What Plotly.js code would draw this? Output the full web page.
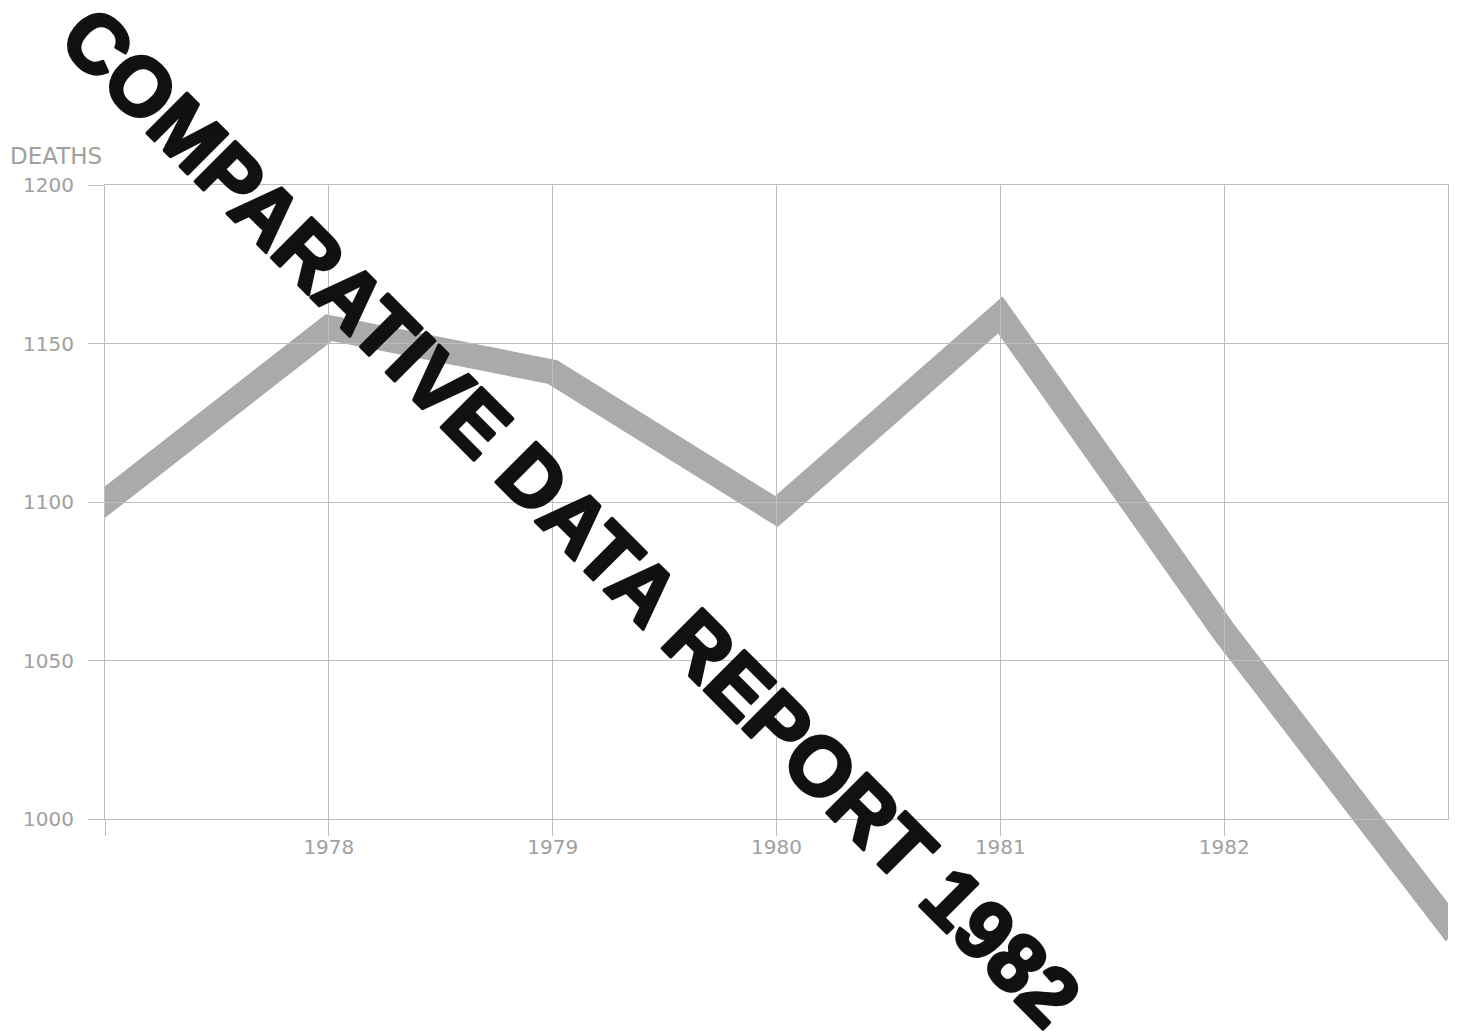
<!DOCTYPE html>
<html>
<head>
<meta charset="utf-8">
<script src="https://cdn.plot.ly/plotly-3.0.1.min.js"></script>
<style>
  html, body { margin: 0; padding: 0; background: #ffffff; }
  #chart { width: 1460px; height: 1035px; }
  .js-line { stroke-linejoin: miter !important; stroke-linecap: square !important; }
  g.annotation[data-index="1"] text {
    font-weight: 700 !important;
    stroke: #111111 !important; stroke-width: 3.5px !important; stroke-linejoin: round !important;
  }
</style>
</head>
<body>
<div id="chart"></div>
<script>
// ---- data ----
const years = [1977, 1978, 1979, 1980, 1981, 1982, 1983];
const deaths = [1100, 1155, 1141, 1097, 1159, 1059, 967];
const xTickVals = [1977, 1978, 1979, 1980, 1981, 1982];
const xTickText = ['', '1978', '1979', '1980', '1981', '1982'];
const yTickVals = [1000, 1050, 1100, 1150, 1200];
const yTickText = ['1000', '1050', '1100', '1150', '1200'];
const yLabel = 'DEATHS';
const watermark = 'COMPARATIVE DATA REPORT 1982';

// ---- layout geometry ----
const W = 1460, H = 1035;
const mL = 105, mR = 12, mT = 185, mB = 60;
const plotH = H - mT - mB;
const gridBottomPx = 819;
const gridDomainLow = (H - mB - gridBottomPx) / plotH;
const gridPxH = gridBottomPx - mT;
const yMin = 1000, yMax = 1200;
const extraUnits = (yMax - yMin) * (H - mB - gridBottomPx) / gridPxH;

const gridColor = '#bdbdbd';
const tickFont = { family: 'DejaVu Sans, sans-serif', size: 20, color: '#a0a0a0' };

const traces = [
  {
    x: years, y: deaths, xaxis: 'x', yaxis: 'y',
    type: 'scatter', mode: 'lines',
    line: { color: '#aaaaaa', width: 25 },
    hoverinfo: 'skip', showlegend: false
  },
  { x: [], y: [], xaxis: 'x2', yaxis: 'y2', type: 'scatter', mode: 'lines', showlegend: false }
];

const layout = {
  width: W, height: H,
  margin: { l: mL, r: mR, t: mT, b: mB, pad: 0 },
  paper_bgcolor: '#ffffff', plot_bgcolor: 'rgba(0,0,0,0)',
  showlegend: false,
  xaxis: { domain: [0, 1], range: [1977, 1983], visible: false, fixedrange: true },
  yaxis: { domain: [0, 1], range: [yMin - extraUnits, yMax], visible: false, fixedrange: true },
  xaxis2: {
    domain: [0, 1], anchor: 'y2', range: [1977, 1983],
    tickmode: 'array', tickvals: xTickVals, ticktext: xTickText,
    showgrid: true, gridcolor: gridColor, gridwidth: 1,
    ticks: 'outside', ticklen: 16, tickcolor: gridColor, tickwidth: 1,
    showline: true, mirror: true, linecolor: gridColor, linewidth: 1,
    zeroline: false, tickfont: tickFont, ticklabelstandoff: -6, fixedrange: true
  },
  yaxis2: {
    domain: [gridDomainLow, 1], anchor: 'x2', range: [yMin, yMax],
    tickmode: 'array', tickvals: yTickVals, ticktext: yTickText,
    showgrid: true, gridcolor: gridColor, gridwidth: 1,
    ticks: 'outside', ticklen: 16, tickcolor: gridColor, tickwidth: 1,
    showline: true, mirror: true, linecolor: gridColor, linewidth: 1,
    zeroline: false, tickfont: tickFont, ticklabelstandoff: 10, fixedrange: true
  },
  annotations: [
    {
      text: yLabel, xref: 'paper', yref: 'paper',
      x: (8 - mL) / (W - mL - mR), y: (H - mB - 156) / plotH,
      xanchor: 'left', yanchor: 'middle', showarrow: false,
      font: { family: 'DejaVu Sans, sans-serif', size: 23, color: '#a0a0a0' }
    },
    {
      text: watermark, xref: 'paper', yref: 'paper',
      x: (571 - mL) / (W - mL - mR), y: (H - mB - 516) / plotH,
      xanchor: 'center', yanchor: 'middle', showarrow: false,
      textangle: 45,
      font: { family: 'Liberation Sans', size: 82, color: '#111111', weight: 700 }
    }
  ]
};

Plotly.newPlot('chart', traces, layout, { displayModeBar: false, staticPlot: true });
</script>
</body>
</html>
